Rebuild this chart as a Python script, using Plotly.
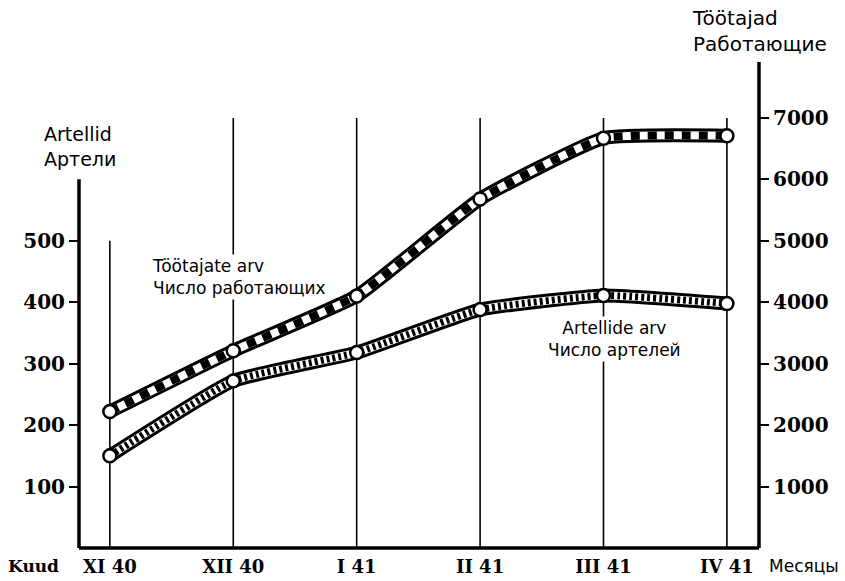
import plotly.graph_objects as go

months = ["XI 40", "XII 40", "I 41", "II 41", "III 41", "IV 41"]
artels = [150, 272, 318, 388, 411, 398]          # left axis (Artellid)
workers = [2220, 3210, 4100, 5680, 6670, 6710]   # right axis (Töötajad)
left_ticks = [100, 200, 300, 400, 500]
right_ticks = [1000, 2000, 3000, 4000, 5000, 6000, 7000]
grid_tops = [500, 700, 700, 700, 700, 700]       # in left-axis units

x = list(range(len(months)))

W, H = 845, 581
ML, MR, MT, MB = 79, 86, 62, 33
PW, PH = W - ML - MR, H - MT - MB

def px(xp):
    return (xp - ML) / PW

def py(yp):
    return (H - MB - yp) / PH

SERIF_B = "DejaVu Serif"
SANS = "DejaVu Sans"
SM = 0.4

fig = go.Figure()

def band(yvals, axis, dash, dw):
    fig.add_trace(go.Scatter(x=x, y=yvals, yaxis=axis, mode="lines",
                             line=dict(color="black", width=14, shape="spline", smoothing=SM),
                             hoverinfo="skip", showlegend=False))
    fig.add_trace(go.Scatter(x=x, y=yvals, yaxis=axis, mode="lines",
                             line=dict(color="white", width=8, shape="spline", smoothing=SM),
                             hoverinfo="skip", showlegend=False))
    fig.add_trace(go.Scatter(x=x, y=yvals, yaxis=axis, mode="lines",
                             line=dict(color="black", width=dw, shape="spline", smoothing=SM, dash=dash),
                             hoverinfo="skip", showlegend=False))

band(workers, "y2", "9px,8px", 8)
band(artels, "y", "3px,3px", 7)

# Markers
fig.add_trace(go.Scatter(x=x, y=workers, yaxis="y2", mode="markers",
                         marker=dict(symbol="circle", size=13, color="white",
                                     line=dict(color="black", width=2.5)),
                         name="Töötajate arv", showlegend=False))
fig.add_trace(go.Scatter(x=x, y=artels, yaxis="y", mode="markers",
                         marker=dict(symbol="circle", size=13, color="white",
                                     line=dict(color="black", width=2.5)),
                         name="Artellide arv", showlegend=False))

shapes = []
for xi, top in zip(x, grid_tops):
    shapes.append(dict(type="line", xref="x", yref="y", x0=xi, x1=xi, y0=0, y1=top,
                       line=dict(color="black", width=1.6), layer="below"))
shapes.append(dict(type="line", xref="paper", yref="y", x0=0, x1=0, y0=0, y1=600,
                   line=dict(color="black", width=3.5)))
shapes.append(dict(type="line", xref="paper", yref="paper", x0=1, x1=1, y0=0, y1=1,
                   line=dict(color="black", width=3.5)))
shapes.append(dict(type="line", xref="paper", yref="paper", x0=0, x1=1, y0=0, y1=0,
                   line=dict(color="black", width=3.5)))

annotations = [
    dict(text="Artellid<br>Артели", xref="paper", yref="paper", x=px(42), y=py(146),
         xanchor="left", yanchor="middle", align="left", showarrow=False,
         font=dict(family=SANS, size=19, color="black")),
    dict(text="Töötajad<br>Работающие", xref="paper", yref="paper", x=px(690), y=py(31),
         xanchor="left", yanchor="middle", align="left", showarrow=False,
         font=dict(family=SANS, size=20, color="black")),
    dict(text="<b>Kuud</b>", xref="paper", yref="paper", x=px(6), y=py(566),
         xanchor="left", yanchor="middle", showarrow=False,
         font=dict(family=SERIF_B, size=17, color="black")),
    dict(text="Месяцы", xref="paper", yref="paper", x=px(767), y=py(566),
         xanchor="left", yanchor="middle", showarrow=False,
         font=dict(family=SANS, size=17, color="black")),
    dict(text="Töötajate arv<br>Число работающих", xref="paper", yref="paper",
         x=px(150), y=py(277), xanchor="left", yanchor="middle", align="left",
         showarrow=False, bgcolor="white",
         font=dict(family=SANS, size=17, color="black")),
    dict(text="Artellide arv<br>Число артелей", xref="paper", yref="paper",
         x=px(614), y=py(339), xanchor="center", yanchor="middle", align="center",
         showarrow=False, bgcolor="white",
         font=dict(family=SANS, size=17, color="black")),
]

fig.update_layout(
    template="none",
    width=W, height=H,
    margin=dict(l=ML, r=MR, t=MT, b=MB),
    paper_bgcolor="white", plot_bgcolor="white",
    showlegend=False,
    shapes=shapes,
    annotations=annotations,
    xaxis=dict(range=[-0.25, 5.26], tickvals=x, ticktext=["<b>%s</b>" % m for m in months],
               showgrid=False, zeroline=False, showline=False, ticks="", automargin=False,
               ticklabelstandoff=6,
               tickfont=dict(family=SERIF_B, size=18, color="black"), fixedrange=True),
    yaxis=dict(range=[0, 791], tickvals=left_ticks, ticktext=["<b>%d</b>" % v for v in left_ticks],
               showgrid=False, zeroline=False, showline=False, automargin=False,
               ticks="outside", ticklen=9, tickwidth=2, tickcolor="black",
               tickfont=dict(family=SERIF_B, size=20, color="black"), fixedrange=True),
    yaxis2=dict(range=[0, 7910], overlaying="y", side="right", automargin=False,
                tickvals=right_ticks, ticktext=["<b>%d</b>" % v for v in right_ticks],
                showgrid=False, zeroline=False, showline=False,
                ticks="outside", ticklen=9, tickwidth=2, tickcolor="black",
                tickfont=dict(family=SERIF_B, size=20, color="black"), fixedrange=True),
)

fig.write_html("out.html", config={"displayModeBar": False},
               post_script="document.body.style.margin='0';document.body.style.overflow='hidden';")
